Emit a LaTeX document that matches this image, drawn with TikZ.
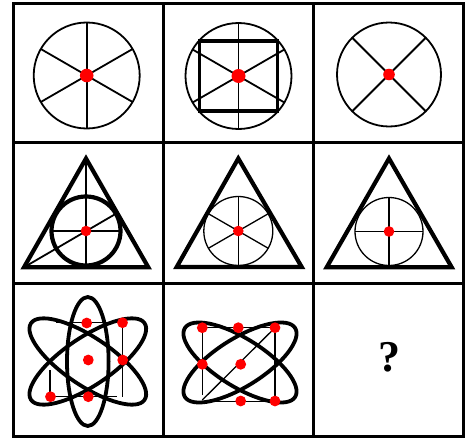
\documentclass[tikz,border=0pt]{standalone}
\usepackage{fontspec}
\setmainfont{Liberation Serif}
\usetikzlibrary{calc}
\begin{document}
\begin{tikzpicture}[x=1pt,y=-1pt,
  gridline/.style={line width=3pt},
  spoke/.style={line width=1.8pt},
  hair/.style={line width=1.3pt},
  heavy/.style={line width=4.2pt},
  mid/.style={line width=3.4pt},
  orbit/.style={line width=3.8pt},
  dot/.style={fill=red}]
\useasboundingbox (0,0) rectangle (467,439);
% grid
\draw[gridline] (13.5,3.5) rectangle (463.5,436);
\draw[gridline] (163.3,3.5) -- (163.3,436);
\draw[gridline] (313.3,3.5) -- (313.3,436);
\draw[gridline] (13.5,142.5) -- (463.5,142.5);
\draw[gridline] (13.5,283.3) -- (463.5,283.3);
% cell 1
\coordinate (c1) at (86.7,75.5);
\draw[spoke] (c1) circle (53);
\foreach \a in {30,90,150} \draw[spoke] (c1) ++(\a:53) -- ++(\a+180:106);
\fill[dot] (c1) circle (6.8);
% cell 2
\coordinate (c2) at (238.5,76);
\draw[spoke] (c2) circle (53);
\draw[mid] (199.5,41) rectangle (277.5,111);
\foreach \a in {30,90,150} \draw[spoke] (c2) ++(\a:53) -- ++(\a+180:106);
\fill[dot] (c2) circle (7);
% cell 3
\coordinate (c3) at (389,74.5);
\draw[spoke] (c3) circle (52);
\foreach \a in {45,135} \draw[spoke] (c3) ++(\a:52) -- ++(\a+180:104);
\fill[dot] (c3) circle (5.8);
% cell 4
\coordinate (t4a) at (86,158.5);
\coordinate (t4l) at (24,267.3);
\coordinate (t4r) at (148.3,267.3);
\coordinate (c4) at (86,231);
\draw[heavy, line join=miter] (t4a) -- (t4l) -- (t4r) -- cycle;
\draw[heavy] (c4) circle (34.5);
\draw[spoke] (t4a) -- (86,267.3);
\draw[spoke] (c4) ++(0:34.5) -- ++(180:69);
\coordinate (d4) at ($(c4)+(-30:34.5)$);
\draw[spoke] (t4l) -- (d4);
\fill[dot] (c4) circle (5.3);
% cell 5
\coordinate (t5a) at (238.3,158.5);
\coordinate (t5l) at (176.7,267);
\coordinate (t5r) at (301.7,267);
\coordinate (c5) at (238.3,231);
\draw[heavy, line join=miter] (t5a) -- (t5l) -- (t5r) -- cycle;
\draw[hair] (c5) circle (34.5);
\foreach \a in {30,90,150} \draw[hair] (c5) ++(\a:34.5) -- ++(\a+180:69);
\fill[dot] (c5) circle (5.3);
% cell 6
\coordinate (t6a) at (389,158.5);
\coordinate (t6l) at (326.7,267.3);
\coordinate (t6r) at (451.7,267.3);
\coordinate (c6) at (389,231.5);
\draw[heavy, line join=miter] (t6a) -- (t6l) -- (t6r) -- cycle;
\draw[hair] (c6) circle (34);
\foreach \a in {0,90} \draw[hair] (c6) ++(\a:34) -- ++(\a+180:68);
\fill[dot] (c6) circle (5.3);
% cell 7
\coordinate (c7) at (87.8,361.5);
\draw[hair] (56,322.7) -- (122.7,322.7) -- (122.7,396.7);
\draw[hair] (50,370) -- (50,396.7) -- (116.7,396.7);
\draw[orbit] (c7) ellipse [x radius=20.8, y radius=64.5];
\draw[orbit, rotate around={34:(c7)}] (c7) ellipse [x radius=68.5, y radius=24];
\draw[orbit, rotate around={-34:(c7)}] (c7) ellipse [x radius=68.5, y radius=24];
\foreach \p in {(86.7,323),(122.5,322.7),(88.3,360),(122.7,360),(50.5,396.7),(88.3,396.7)}
  \fill[dot] \p circle (5.4);
% cell 8
\coordinate (c8) at (240,362.5);
\draw[hair] (202.3,395) -- (202.3,327.7) -- (275,327.7) -- (275,401.5) -- (208.3,401.5);
\draw[hair] (202.3,400) -- (275,327.7);
\draw[orbit, rotate around={32:(c8)}] (c8) ellipse [x radius=65, y radius=24];
\draw[orbit, rotate around={-32:(c8)}] (c8) ellipse [x radius=65, y radius=24];
\foreach \p in {(202.3,327.7),(238.3,327.7),(275,327.7),(202.3,364.3),(240.7,364.3),(240.7,401),(275,401)}
  \fill[dot] \p circle (5.4);
% cell 9
\node[font=\fontsize{44}{44}\selectfont\bfseries, inner sep=0pt] (q) at (389,357) {?};
\end{tikzpicture}
\end{document}
